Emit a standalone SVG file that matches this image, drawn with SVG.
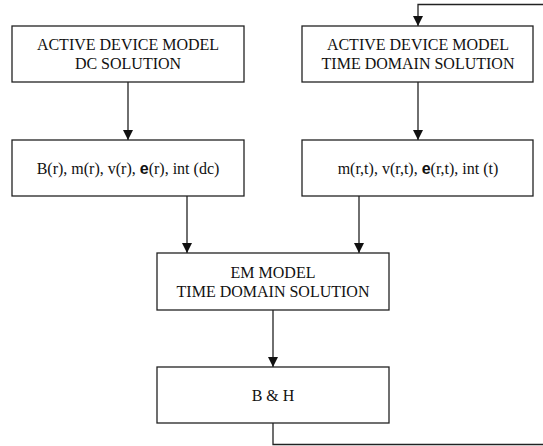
<svg xmlns="http://www.w3.org/2000/svg" width="543" height="446" viewBox="0 0 543 446">
<style>
.box{fill:#fff;stroke:#222;stroke-width:1.3}
.t{font-family:"Liberation Serif","Times New Roman",serif;font-size:16px;fill:#111;text-anchor:middle}
.e{font-family:"Liberation Sans",Arial,sans-serif;font-weight:bold}
.c{fill:none;stroke:#222;stroke-width:1.3}
</style>
<defs>
<marker id="ah" viewBox="0 0 10 10" refX="10" refY="5" markerWidth="10" markerHeight="10" markerUnits="userSpaceOnUse" orient="auto">
<path d="M0,0 L10,5 L0,10 Z" fill="#111"/>
</marker>
</defs>
<g id="connectors">
<line class="c" x1="128" y1="82" x2="128" y2="140" marker-end="url(#ah)"/>
<line class="c" x1="418" y1="82" x2="418" y2="140" marker-end="url(#ah)"/>
<line class="c" x1="187" y1="196" x2="187" y2="253" marker-end="url(#ah)"/>
<line class="c" x1="359" y1="196" x2="359" y2="253" marker-end="url(#ah)"/>
<line class="c" x1="273" y1="310" x2="273" y2="367" marker-end="url(#ah)"/>
<polyline class="c" points="273,423 273,444.5 546,444.5"/>
<polyline class="c" points="546,4.5 418,4.5 418,26" marker-end="url(#ah)"/>
</g>
<g id="n1">
<rect class="box" x="12" y="26" width="232" height="56"/>
<text class="t" x="128" y="50">ACTIVE DEVICE MODEL</text>
<text class="t" x="128" y="69">DC SOLUTION</text>
</g>
<g id="n2">
<rect class="box" x="302" y="26" width="231" height="56"/>
<text class="t" x="418" y="50">ACTIVE DEVICE MODEL</text>
<text class="t" x="418" y="69">TIME DOMAIN SOLUTION</text>
</g>
<g id="n3">
<rect class="box" x="12" y="140" width="232" height="56"/>
<text class="t" x="128" y="174">B(r), m(r), v(r), <tspan class="e">e</tspan>(r), int (dc)</text>
</g>
<g id="n4">
<rect class="box" x="302" y="140" width="231" height="56"/>
<text class="t" x="418" y="174">m(r,t), v(r,t), <tspan class="e">e</tspan>(r,t), int (t)</text>
</g>
<g id="n5">
<rect class="box" x="157" y="253" width="232" height="57"/>
<text class="t" x="273" y="278">EM MODEL</text>
<text class="t" x="273" y="297">TIME DOMAIN SOLUTION</text>
</g>
<g id="n6">
<rect class="box" x="157" y="367" width="232" height="56"/>
<text class="t" x="273" y="401">B &amp; H</text>
</g>
</svg>
